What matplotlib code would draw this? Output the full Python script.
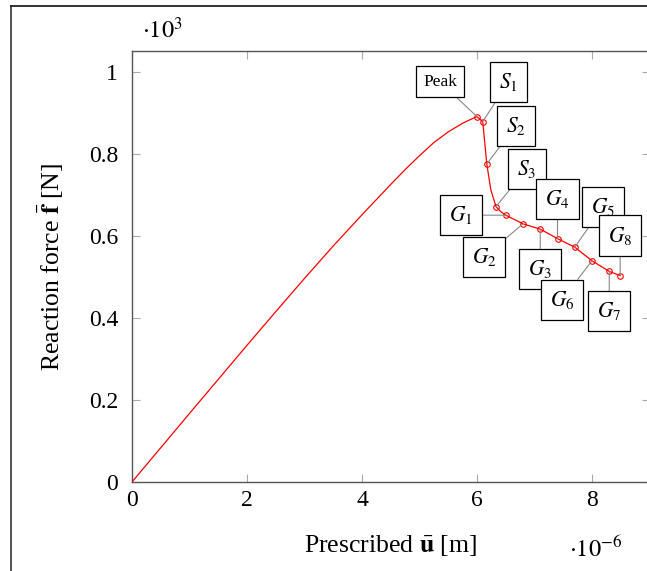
import matplotlib
matplotlib.use('Agg')
import matplotlib.pyplot as plt
from matplotlib.lines import Line2D

# ---- data (u in 1e-6 m, f in 1e3 N) ----
u_curve = [0, 1, 2, 2.5, 3, 3.5, 4, 4.25, 4.5, 4.75, 5, 5.25, 5.5, 5.75, 5.9, 6.0,
           6.10, 6.17, 6.24, 6.33, 6.41, 6.50, 6.80, 7.10, 7.40, 7.70, 8.00, 8.30, 8.49]
f_curve = [0, 0.167, 0.333, 0.415, 0.496, 0.575, 0.651, 0.688, 0.725, 0.761, 0.795, 0.827,
           0.853, 0.874, 0.884, 0.890,
           0.878, 0.775, 0.712, 0.671, 0.659, 0.650, 0.629, 0.616, 0.593, 0.572, 0.539, 0.513, 0.503]

point_labels = ['Peak', '$S_1$', '$S_2$', '$S_3$', '$G_1$', '$G_2$', '$G_3$',
                '$G_4$', '$G_5$', '$G_6$', '$G_7$', '$G_8$']
point_u = [6.00, 6.10, 6.17, 6.33, 6.50, 6.80, 7.10, 7.40, 7.70, 8.00, 8.30, 8.49]
point_f = [0.890, 0.878, 0.775, 0.671, 0.650, 0.629, 0.616, 0.593, 0.572, 0.539, 0.513, 0.503]

x_ticks = [0, 2, 4, 6, 8]
y_ticks = [0, 0.2, 0.4, 0.6, 0.8, 1.0]
y_tick_labels = ['0', '0.2', '0.4', '0.6', '0.8', '1']

# ---- layout (pixel offsets of the pin boxes) ----
pin_offsets = [(-37, 35), (26, 40), (29, 38), (31, 38), (-45, 0), (-39, -33),
               (0, -40), (0, 40), (28, 40), (-30, -39), (0, -40), (0, 40)]

plt.rcParams['font.family'] = ['Liberation Serif', 'DejaVu Serif']
plt.rcParams['mathtext.fontset'] = 'stix'

W, H = 647, 571
fig = plt.figure(figsize=(W / 100, H / 100), dpi=100)
ax = fig.add_axes([132 / W, 89 / H, 517.5 / W, 431 / H])

ax.plot(u_curve, f_curve, color='red', lw=0.9, zorder=3)
ax.plot(point_u, point_f, 'o', mfc='none', mec='red', ms=4, mew=0.8, zorder=4)

for lbl, x, y, off in zip(point_labels, point_u, point_f, pin_offsets):
    fs = 12.5 if lbl == 'Peak' else 15.5
    ax.annotate(lbl, xy=(x, y), xytext=off, textcoords='offset pixels',
                ha='center', va='center', fontsize=fs, zorder=5,
                bbox=dict(boxstyle='square,pad=0.42', fc='white', ec='black', lw=0.9),
                arrowprops=dict(arrowstyle='-', color='#888888', lw=0.8,
                                shrinkA=0, shrinkB=0))

ax.set_xlim(0, 9)
ax.set_ylim(0, 1.05)
ax.set_xticks(x_ticks)
ax.set_xticklabels([str(t) for t in x_ticks])
ax.set_yticks(y_ticks)
ax.set_yticklabels(y_tick_labels)
ax.tick_params(direction='in', length=6, width=0.8, color='#aaaaaa',
               top=True, right=True, labelsize=17)
ax.tick_params(axis='y', pad=10)
ax.tick_params(axis='x', pad=6)
for s in ax.spines.values():
    s.set_color('#555555')
    s.set_linewidth(1.0)

ax.set_xlabel(r'Prescribed $\bar{\mathbf{u}}$ [m]', fontsize=18.5)
ax.set_ylabel(r'Reaction force $\bar{\mathbf{f}}$ [N]', fontsize=18.5)
ax.xaxis.set_label_coords(0.5, -0.118)
ax.yaxis.set_label_coords(-0.128, 0.5)

fig.text(142 / W, 1 - 30 / H, r'$\cdot10^{3}$', fontsize=17.5, ha='left', va='center')
fig.text(569 / W, 1 - 549 / H, r'$\cdot10^{-6}$', fontsize=17.5, ha='left', va='center')

# outer page frame
fig.add_artist(Line2D([11 / W, 11 / W], [0, 1 - 6 / H], transform=fig.transFigure,
                      color='#333333', lw=1.2))
fig.add_artist(Line2D([11 / W, 1], [1 - 6 / H, 1 - 6 / H], transform=fig.transFigure,
                      color='#111111', lw=1.2))

fig.savefig('out.png', dpi=100)
